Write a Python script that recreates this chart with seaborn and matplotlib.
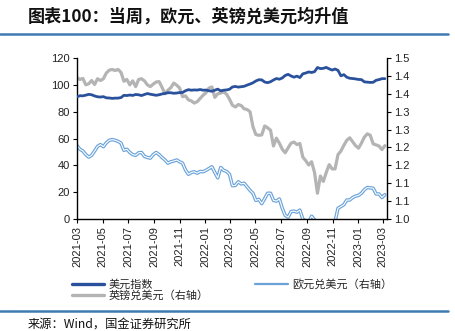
import numpy as np
import pandas as pd
import matplotlib
matplotlib.use("Agg")
import matplotlib.pyplot as plt
import matplotlib.dates as mdates
from matplotlib.lines import Line2D
import matplotlib.patheffects as pe
import seaborn as sns

# ---------------- data (weekly, from 2021-03-01) ----------------
start_date = "2021-03-01"

dxy = [91.0, 91.9, 91.8, 92.3, 92.9,
       92.6, 91.7, 91.1, 90.9,
       91.2, 90.3, 90.2, 89.9, 90.1,
       90.1, 90.5, 92.2, 92.0,
       92.4, 92.1, 92.8, 92.6,
       92.0, 92.8, 93.5, 93.0, 92.6,
       92.2, 92.6, 93.2, 93.6,
       94.1, 94.1, 93.7, 93.9,
       94.2, 94.3, 95.6, 96.4, 96.0,
       96.2, 96.1, 96.5, 96.0,
       96.1, 95.6, 95.2, 96.0, 96.8,
       95.5, 96.0, 96.2, 96.7,
       98.4, 98.8, 98.3, 98.6,
       98.9, 99.8, 100.6, 101.5,
       102.9, 103.8, 103.7, 102.1, 101.6,
       102.3, 103.6, 104.7, 104.2,
       105.1, 107.0, 107.8, 106.6,
       105.7, 106.5, 105.4, 108.2, 108.8,
       109.6, 109.2, 109.8, 112.9,
       112.1, 112.3, 113.0, 111.9, 111.0,
       111.8, 110.8, 106.7, 107.6,
       105.7, 104.9, 104.7, 104.4,
       104.0, 103.9, 102.2, 102.0, 101.8,
       101.9, 103.4, 103.9, 104.6,
       104.6]

gbpusd = [1.395, 1.390, 1.393, 1.375, 1.378,
          1.387, 1.376, 1.392, 1.387,
          1.392, 1.408, 1.416, 1.418, 1.415,
          1.418, 1.410, 1.385, 1.390,
          1.375, 1.386, 1.370, 1.390,
          1.392, 1.386, 1.375, 1.370, 1.377,
          1.383, 1.384, 1.368, 1.350,
          1.360, 1.367, 1.380, 1.374,
          1.366, 1.342, 1.344, 1.333, 1.330,
          1.324, 1.328, 1.337, 1.346,
          1.353, 1.366, 1.369, 1.340, 1.350,
          1.352, 1.355, 1.349, 1.335,
          1.318, 1.313, 1.320, 1.317,
          1.308, 1.306, 1.300, 1.258,
          1.236, 1.234, 1.235, 1.260, 1.255,
          1.248, 1.204, 1.226, 1.212,
          1.195, 1.185, 1.199, 1.212,
          1.215, 1.208, 1.211, 1.173, 1.163,
          1.151, 1.160, 1.130, 1.072,
          1.120, 1.105, 1.130, 1.152, 1.140,
          1.140, 1.180, 1.190, 1.206,
          1.220, 1.227, 1.216, 1.205,
          1.198, 1.212, 1.229, 1.238, 1.234,
          1.210, 1.207, 1.204, 1.194,
          1.205]

eurusd = [1.205, 1.195, 1.190, 1.180, 1.173,
          1.178, 1.190, 1.203, 1.208,
          1.202, 1.213, 1.220, 1.222, 1.220,
          1.217, 1.212, 1.192, 1.195,
          1.186, 1.180, 1.178, 1.185,
          1.186, 1.175, 1.172, 1.170, 1.180,
          1.186, 1.180, 1.172, 1.165,
          1.156, 1.160, 1.162, 1.165,
          1.160, 1.156, 1.137, 1.125, 1.130,
          1.132, 1.128, 1.133, 1.132,
          1.136, 1.141, 1.146, 1.130, 1.115,
          1.144, 1.136, 1.133, 1.125,
          1.093, 1.094, 1.104, 1.098,
          1.100, 1.090, 1.080, 1.072,
          1.052, 1.055, 1.043, 1.057, 1.072,
          1.072, 1.052, 1.050, 1.056,
          1.030, 1.010, 1.005, 1.021,
          1.022, 1.019, 1.025, 1.000, 0.995,
          0.992, 1.008, 0.998, 0.970,
          0.980, 0.974, 0.975, 0.987, 0.995,
          0.993, 1.030, 1.035, 1.040,
          1.053, 1.053, 1.060, 1.064,
          1.066, 1.072, 1.082, 1.088, 1.087,
          1.086, 1.070, 1.070, 1.060,
          1.068]

labels = ["美元指数", "英镑兑美元（右轴）", "欧元兑美元（右轴）"]
left_ticks = [0, 20, 40, 60, 80, 100, 120]
right_ticks = [1.0, 1.05, 1.10, 1.15, 1.20, 1.25, 1.30, 1.35, 1.40, 1.45]
right_ticklabels = ["1.0", "1.1", "1.1", "1.2", "1.2", "1.3", "1.3", "1.4", "1.4", "1.5"]
title = "图表100：当周，欧元、英镑兑美元均升值"
source = "来源：Wind，国金证券研究所"

dates = pd.date_range(start_date, periods=len(dxy), freq="7D")
df = pd.DataFrame({"date": dates, "dxy": dxy, "gbp": gbpusd, "eur": eurusd})

# ---------------- style ----------------
sns.set_theme(style="white")
plt.rcParams["font.family"] = ["Liberation Sans", "Noto Sans CJK SC", "DejaVu Sans"]

C_DXY = "#2A529C"
C_GBP = "#B4B4B4"
C_EUR = "#6AA3DA"
C_RULE = "#3D7AB0"

fig = plt.figure(figsize=(4.56, 3.31), dpi=100)
ax = fig.add_axes([77/456, 1-219/331, (387-77)/456, (219-58)/331])
ax2 = ax.twinx()

sns.lineplot(data=df, x="date", y="dxy", ax=ax, color=C_DXY, lw=2.0, zorder=3)
sns.lineplot(data=df, x="date", y="gbp", ax=ax2, color=C_GBP, lw=2.3, zorder=2)
sns.lineplot(data=df, x="date", y="eur", ax=ax2, color="white", lw=0.8, zorder=4,
             path_effects=[pe.Stroke(linewidth=2.5, foreground=C_EUR), pe.Normal()])

ax.set_zorder(ax2.get_zorder() + 1)
ax.patch.set_visible(False)

ax.set_ylim(0, 120)
ax.set_yticks(left_ticks)
ax2.set_ylim(1.0, 1.45)
ax2.set_yticks(right_ticks)
ax2.set_yticklabels(right_ticklabels)
ax.set_xlim(pd.Timestamp("2021-03-01"), pd.Timestamp("2023-03-11"))
ax.xaxis.set_major_locator(mdates.MonthLocator(bymonth=[1, 3, 5, 7, 9, 11]))
ax.xaxis.set_major_formatter(mdates.DateFormatter("%Y-%m"))
ax.set_xlabel("")
ax.set_ylabel("")
ax2.set_ylabel("")

for a in (ax, ax2):
    for s in a.spines.values():
        s.set_visible(False)
ax.spines["left"].set_visible(True)
ax.spines["bottom"].set_visible(True)
ax2.spines["right"].set_visible(True)
for s in (ax.spines["left"], ax.spines["bottom"], ax2.spines["right"]):
    s.set_color("black")
    s.set_linewidth(1.0)

ax.tick_params(axis="y", which="major", direction="out", length=3, width=0.8,
               color="black", labelsize=8, pad=2, left=True, labelcolor="#222222")
ax.tick_params(axis="x", which="major", direction="out", length=3, width=0.8,
               color="black", labelsize=8, pad=2, bottom=True, labelrotation=90,
               labelcolor="#222222")
ax2.tick_params(axis="y", which="major", direction="out", length=3, width=0.8,
                color="black", labelsize=8, pad=2, right=True, labelcolor="#222222")
ax.grid(False)
ax2.grid(False)

# legend
handles = [Line2D([], [], color=C_DXY, lw=2.4),
           Line2D([], [], color=C_GBP, lw=2.4),
           Line2D([], [], color=C_EUR, lw=1.6)]
fig.legend(handles, labels, ncol=2, loc="upper left",
           bbox_to_anchor=(72/456, 1-279/331), frameon=False,
           prop={"family": ["Noto Sans CJK SC"], "size": 8},
           handlelength=2.9, handletextpad=0.4, columnspacing=4.2,
           labelspacing=0.0, borderpad=0.0, borderaxespad=0.0)

# title / rules / source
fig.text(28/456, 1-17/331, title, fontsize=12.3, fontweight="bold", style="italic",
         family=["Noto Sans CJK SC", "DejaVu Sans"], color="#111111", va="center", ha="left")
fig.add_artist(Line2D([0, 448/456], [1-34/331, 1-34/331], color=C_RULE, lw=1.8,
                      transform=fig.transFigure))
fig.add_artist(Line2D([0, 448/456], [1-311/331, 1-311/331], color=C_RULE, lw=1.8,
                      transform=fig.transFigure))
fig.text(28/456, 1-325/331, source, fontsize=8.8,
         family=["Noto Sans CJK SC", "DejaVu Sans"], color="#111111", va="center", ha="left")

fig.savefig("out.png", dpi=100)
